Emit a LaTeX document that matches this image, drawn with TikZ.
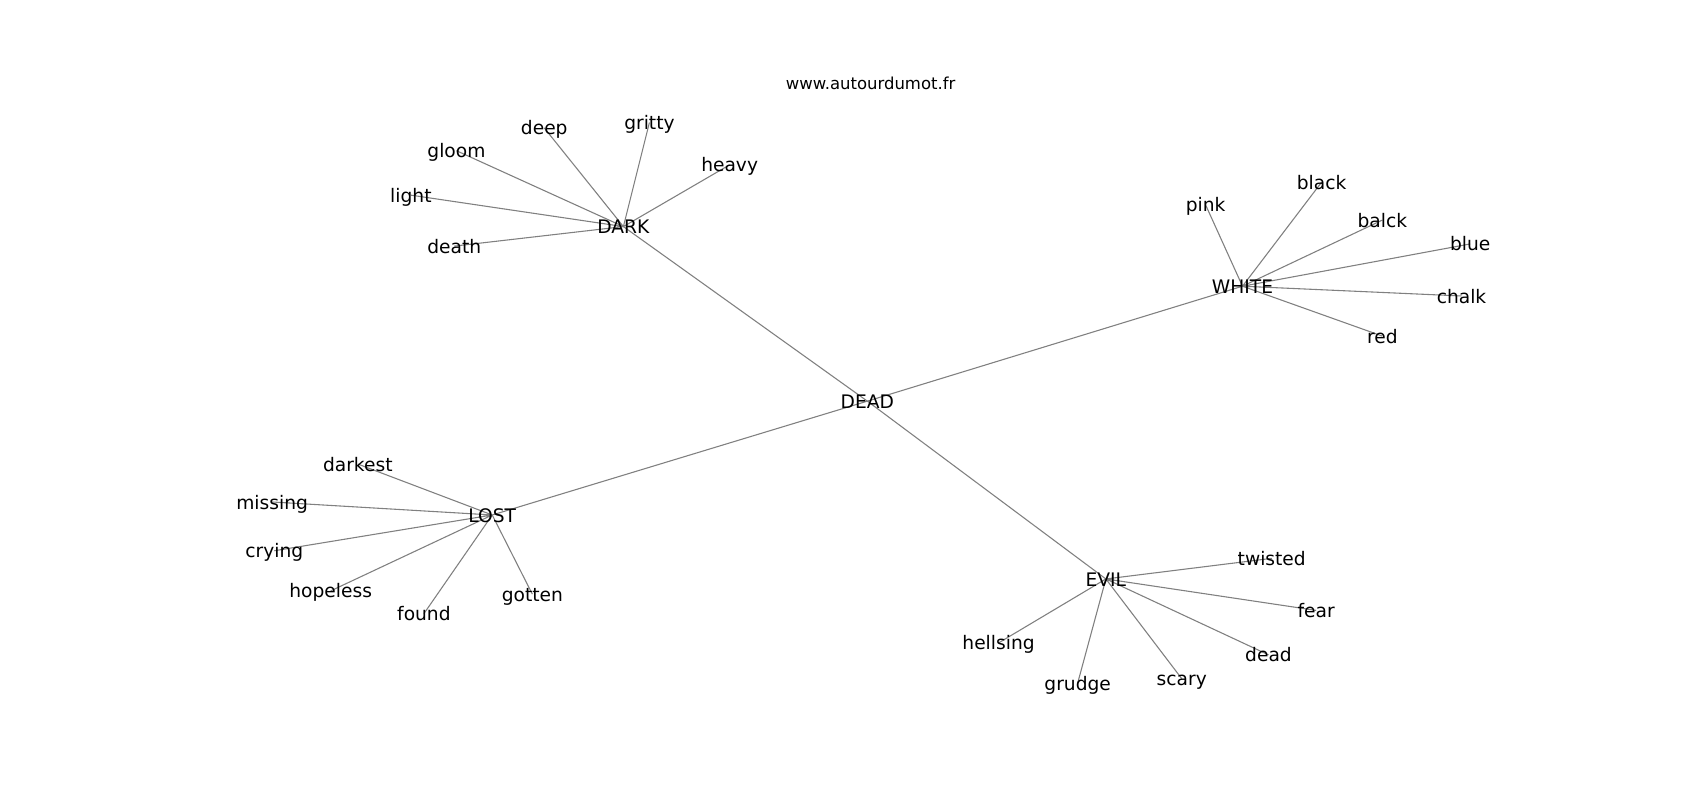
\documentclass[tikz,border=0pt]{standalone}
\usepackage{fontspec}
\setmainfont{DejaVu Sans}
\usetikzlibrary{backgrounds}

\begin{document}
\begin{tikzpicture}[x=1pt, y=-1pt,
  word/.style={inner sep=0pt, text height=15pt, text depth=2pt, font=\fontsize{17.2}{20}\selectfont},
  link/.style={draw=black!50, line width=1pt}]
\useasboundingbox (0,0) rectangle (1568,738);
\node[inner sep=0pt, font=\fontsize{15.2}{18}\selectfont] (site) at (803,77) {www.autourdumot.fr};

\node[word] (DEAD)  at (800,370) {DEAD};
\node[word] (DARK)  at (575,209) {DARK};
\node[word] (WHITE) at (1146,264) {WHITE};
\node[word] (LOST)  at (454,475) {LOST};
\node[word] (EVIL)  at (1020,534) {EVIL};

\node[word] (deep)   at (502,118) {deep};
\node[word] (gritty) at (599,113) {gritty};
\node[word] (gloom)  at (421,139) {gloom};
\node[word] (light)  at (379,180) {light};
\node[word] (heavy)  at (673,152) {heavy};
\node[word] (death)  at (419,227) {death};

\node[word] (pink)  at (1112,189) {pink};
\node[word] (black) at (1219,168) {black};
\node[word] (balck) at (1275,203) {balck};
\node[word] (blue)  at (1356,225) {blue};
\node[word] (chalk) at (1348,273) {chalk};
\node[word] (red)   at (1275,310) {red};

\node[word] (darkest)  at (330,428) {darkest};
\node[word] (missing)  at (251,463) {missing};
\node[word] (crying)   at (253,508) {crying};
\node[word] (hopeless) at (305,545) {hopeless};
\node[word] (found)    at (391,566) {found};
\node[word] (gotten)   at (491,548) {gotten};

\node[word] (twisted)  at (1173,515) {twisted};
\node[word] (fear)     at (1214,563) {fear};
\node[word] (dead)     at (1170,604) {dead};
\node[word] (scary)    at (1090,626) {scary};
\node[word] (grudge)   at (994,630) {grudge};
\node[word] (hellsing) at (921,593) {hellsing};

\begin{scope}[on background layer]
\draw[link]
     (DEAD.center) -- (DARK.center)
     (DEAD.center) -- (WHITE.center)
     (DEAD.center) -- (LOST.center)
     (DEAD.center) -- (EVIL.center);
\draw[link]
     (DARK.center) -- (deep.center)
     (DARK.center) -- (gritty.center)
     (DARK.center) -- (gloom.center)
     (DARK.center) -- (light.center)
     (DARK.center) -- (heavy.center)
     (DARK.center) -- (death.center);
\draw[link]
     (WHITE.center) -- (pink.center)
     (WHITE.center) -- (black.center)
     (WHITE.center) -- (balck.center)
     (WHITE.center) -- (blue.center)
     (WHITE.center) -- (chalk.center)
     (WHITE.center) -- (red.center);
\draw[link]
     (LOST.center) -- (darkest.center)
     (LOST.center) -- (missing.center)
     (LOST.center) -- (crying.center)
     (LOST.center) -- (hopeless.center)
     (LOST.center) -- (found.center)
     (LOST.center) -- (gotten.center);
\draw[link]
     (EVIL.center) -- (twisted.center)
     (EVIL.center) -- (fear.center)
     (EVIL.center) -- (dead.center)
     (EVIL.center) -- (scary.center)
     (EVIL.center) -- (grudge.center)
     (EVIL.center) -- (hellsing.center);
\end{scope}
\end{tikzpicture}
\end{document}
